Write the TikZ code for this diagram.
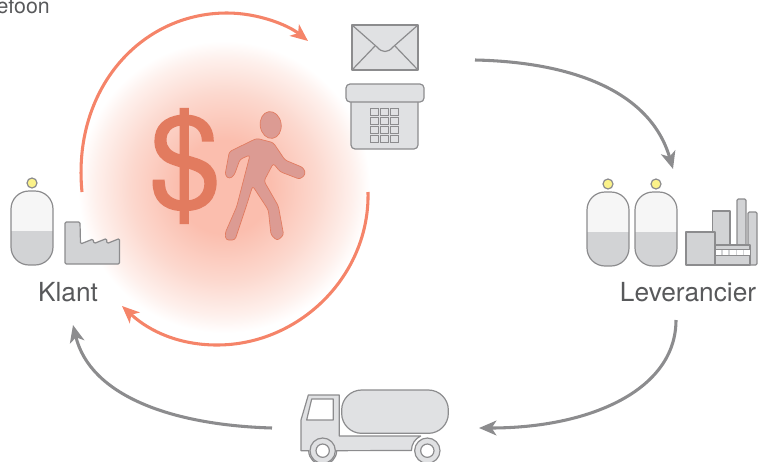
\documentclass[tikz,border=0pt]{standalone}
\usepackage{fontspec}
\setmainfont{TeX Gyre Heros}
\newfontfamily\dollarfont[FakeBold=1.4]{TeX Gyre Heros}
\usetikzlibrary{arrows.meta}
\definecolor{linegray}{HTML}{8C8C8E}
\definecolor{iconfill}{HTML}{E0E1E3}
\definecolor{levelfill}{HTML}{D2D3D5}
\definecolor{tankfill}{HTML}{F6F6F6}
\definecolor{lampfill}{HTML}{FBF28A}
\definecolor{flowred}{HTML}{F58469}
\definecolor{dollarred}{HTML}{E27B5F}
\definecolor{walkerfill}{HTML}{DC9B93}
\definecolor{labelgray}{HTML}{58595B}
\definecolor{glowmid}{HTML}{FCD8CE}
\definecolor{glowout}{HTML}{FEF0EC}
\definecolor{glowin}{HTML}{FBBEAE}
\pgfdeclareradialshading{glow}{\pgfpointorigin}{color(0bp)=(glowin); color(8bp)=(glowin); color(16bp)=(glowmid); color(22bp)=(glowout); color(25bp)=(white); color(50bp)=(white)}
\tikzset{
    icon/.style={draw=linegray, fill=iconfill, line width=0.9pt, line join=round},
    flow/.style={draw=linegray, line width=2.3pt, -{Stealth[length=13pt,width=11pt,inset=3.5pt]}},
    place/.style={text=labelgray, font=\fontsize{19.7}{19.7}\selectfont},
    tank/.pic={
        \begin{scope}
            \clip[rounded corners=13.5pt] (-21,-37) rectangle (21,37);
            \fill[tankfill] (-21,-37) rectangle (21,3);
            \fill[levelfill] (-21,3) rectangle (21,37);
        \end{scope}
        \draw[linegray, line width=0.9pt, rounded corners=13.5pt] (-21,-37) rectangle (21,37);
        \draw[linegray, fill=lampfill, line width=0.9pt] (0,-45) circle (5);
    }
}
\begin{document}
\begin{tikzpicture}[x=0.75pt,y=-0.75pt]
    \clip (0,0) rectangle (764,461);
    \shade[shading=glow] (224,187) circle (146);

    % labels
    \node[text=labelgray, font=\fontsize{16}{16}\selectfont, anchor=base east, inner sep=0pt] (phone) at (50,13) {Telefoon};
    \node[place, anchor=base] (klant) at (68,301) {Klant};
    \node[place, anchor=base] (lev) at (688,301) {Leverancier};

    % free ends of the arrows
    \coordinate (a1) at (475,60);
    \coordinate (a2) at (673,169);
    \coordinate (b1) at (676,320);
    \coordinate (b2) at (479,428);
    \coordinate (c1) at (272,428);
    \coordinate (c2) at (73,325);
    \coordinate (d1) at (82,192);
    \coordinate (d2) at (308,41);
    \coordinate (e1) at (368,192);
    \coordinate (e2) at (122,306);

    \draw[flow] (a1) .. controls (570,62) and (650,90) .. (a2);
    \draw[flow] (b1) .. controls (676,390) and (590,428) .. (b2);
    \draw[flow] (c1) .. controls (170,425) and (90,395) .. (c2);
    \draw[flow, draw=flowred] (d1) .. controls (72,90) and (140,13) .. (227,13) .. controls (258,13) and (288,25) .. (d2);
    \draw[flow, draw=flowred] (e1) .. controls (370,275) and (300,345) .. (217,345) .. controls (180,345) and (150,332) .. (e2);

    % money and walker
    \node[text=dollarred, font=\dollarfont\fontsize{96}{96}\selectfont, inner sep=0pt] (dollar) at (185,166) {\$};
    \draw[draw=dollarred, fill=walkerfill, line width=0.5pt, rotate around={8:(270.7,125)}] (270.7,125) ellipse (10.5 and 13.5);
    \begin{scope}[shift={(140,100)}, x=0.25pt, y=-0.25pt]
        \draw[draw=dollarred, fill=walkerfill, line width=0.5pt, rounded corners=2pt]
            (350,115) -- (400,128) -- (435,180) -- (490,203) -- (497,222) -- (480,238) -- (420,215) -- (400,190) -- (372,243)
            -- (415,318) -- (431,405) -- (412,422) -- (393,405) -- (385,330) -- (338,258) -- (320,315) -- (285,420)
            -- (258,420) -- (255,400) -- (290,320) -- (330,165) -- (300,178) -- (283,225) -- (268,237) -- (255,225) -- (268,155) -- cycle;
    \end{scope}

    % envelope
    \draw[icon] (352,25) rectangle (418,70);
    \draw[icon, fill=none] (352,25) -- (377,47) .. controls (382,53) and (388,53) .. (393,47) -- (418,25);
    \draw[icon, fill=none] (352,70) -- (375,46) (418,70) -- (395,46);

    % phone
    \draw[icon, rounded corners=3pt] (351,95) -- (351,149) -- (418,149) -- (418,95);
    \draw[icon, rounded corners=3pt] (346,84) rectangle (424,102);
    \foreach \row in {108,117.2,126.4,135.6}
        \foreach \col in {370,380,390}
            \draw[linegray, line width=0.6pt] (\col,\row) rectangle ++(8.5,7.2);

    % customer
    \pic at (32,228) {tank};
    \draw[icon, fill=levelfill, rounded corners=1pt] (65,264) -- (65,222) -- (80,222) -- (80.5,244) -- (93,239) -- (94,243.5) -- (106.5,238.5) -- (107,243.5) -- (119.5,238.5) -- (119.5,264) -- cycle;

    % supplier
    \pic at (608,229) {tank};
    \pic at (656,229) {tank};
    \draw[icon, fill=levelfill] (712.7,245) rectangle (730,211);
    \draw[icon, fill=levelfill, rounded corners=1pt] (737,245) -- (737,199) -- (746,199) -- (746,245);
    \draw[icon, fill=levelfill, rounded corners=1pt] (748,265) -- (748,212) -- (757,212) -- (757,265) -- cycle;
    \draw[icon, fill=levelfill] (715,245) rectangle (750,265);
    \draw[icon, fill=levelfill] (686,232) rectangle (715,265);
    \foreach \col in {715.5,722.8,730,737.2,744}
        \fill[white] (\col,250) rectangle ++(5.6,4.6);
    \draw[linegray, line width=0.6pt] (715,249.5) -- (750,249.5) (715,255) -- (750,255);

    % truck
    \begin{scope}[shift={(290,380)}, x=0.25pt, y=-0.25pt]
        \draw[icon, rounded corners=15pt] (155,30) rectangle (475,160);
        \draw[icon] (33,212) -- (33,120) -- (55,45) -- (148,45) -- (148,168) -- (392,168)
            arc[start angle=245, end angle=180, radius=48] -- (140,212)
            arc[start angle=0, end angle=180, radius=42] -- cycle;
        \draw[icon, fill=white] (65,57) -- (130,57) -- (130,120) -- (50,120) -- cycle;
        \foreach \col in {98,412} {
            \draw[icon] (\col,212) circle (38);
            \draw[icon, fill=white] (\col,212) circle (20);
        }
    \end{scope}
\end{tikzpicture}
\end{document}
